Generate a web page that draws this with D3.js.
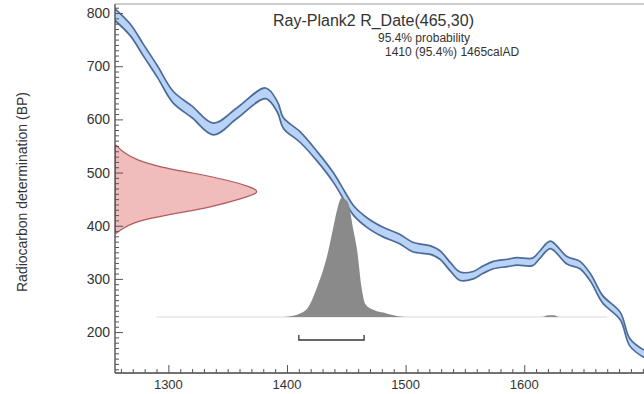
<!DOCTYPE html>
<html>
<head>
<meta charset="utf-8">
<script src="https://cdn.jsdelivr.net/npm/d3@7"></script>
<style>
  html, body { margin: 0; padding: 0; background: #ffffff; }
  svg { display: block; }
  text { font-family: "Liberation Sans", Arial, sans-serif; fill: #333; }
</style>
</head>
<body>
<svg id="chart" width="644" height="394"></svg>
<script>
// ---- Data ----
// Calibration curve: calendar year (AD), radiocarbon age (BP), 1-sigma (BP)
const curveYears = [1255, 1268, 1279, 1291, 1304, 1320, 1338, 1358, 1382, 1392, 1397, 1411, 1426, 1439, 1449, 1456, 1468, 1481, 1495, 1506, 1521, 1529, 1538, 1546, 1557, 1565, 1574, 1586, 1594, 1607, 1613, 1622, 1636, 1647, 1656, 1666, 1681, 1689, 1701];
const curveBP    = [797, 768, 730, 689, 642, 614, 582, 612, 649, 623, 593, 567, 529, 491, 454, 429, 405, 388, 375, 360, 354, 345, 322, 305, 307, 317, 326, 330, 333, 332, 345, 364, 335, 326, 302, 262, 230, 181, 159];
const curveSigma = [11, 11, 11, 11, 11, 11, 11, 10, 10, 10, 10, 10, 9, 9, 9, 9, 9, 9, 9, 9, 8, 8, 8, 8, 7, 7, 7, 7, 7, 7, 7, 7, 7, 7, 7, 7, 7, 7, 7];

// Radiocarbon measurement R_Date(465,30): BP value, relative density
const rdateBP      = [551, 538, 523, 510, 499, 486, 473, 463, 452, 435, 424, 414, 405, 395, 386];
const rdateDensity = [0.01, 0.055, 0.15, 0.31, 0.54, 0.77, 0.93, 1.0, 0.88, 0.66, 0.43, 0.24, 0.12, 0.055, 0.01];

// Calibrated distribution: calendar year, relative density
const calYears   = [1290, 1398, 1405, 1411, 1417, 1425, 1434, 1439, 1442, 1446, 1451, 1456, 1459, 1463, 1466, 1473, 1484, 1490, 1500, 1615, 1620, 1625, 1630, 1670];
const calDensity = [0, 0, 0.01, 0.03, 0.07, 0.24, 0.52, 0.75, 0.89, 1.0, 0.97, 0.73, 0.57, 0.24, 0.11, 0.06, 0.03, 0.015, 0, 0, 0.015, 0.015, 0, 0];

// 95.4% range
const range95 = [1410, 1465];

// Axis ticks
const xMajorTicks = [1300, 1400, 1500, 1600];
const yMajorTicks = [200, 300, 400, 500, 600, 700, 800];

const titleText = "Ray-Plank2 R_Date(465,30)";
const probText  = "95.4% probability";
const rangeText = "1410 (95.4%) 1465calAD";
const yLabel    = "Radiocarbon determination (BP)";

// ---- Layout ----
const L = 115, R = 644, T = 4, B = 373;
const svg = d3.select("#chart");

const x = d3.scaleLinear().domain([1255, 1701]).range([L, R]);
const y = d3.scaleLinear().domain([123, 817]).range([B, T]);

const defs = svg.append("defs");
defs.append("clipPath").attr("id", "plot").append("rect")
  .attr("x", L).attr("y", T).attr("width", R - L).attr("height", B - T);

const g = svg.append("g").attr("clip-path", "url(#plot)");

// Calibration curve band
const curve = curveYears.map((yr, i) => ({ yr, bp: curveBP[i], s: curveSigma[i] }));
const cf = d3.curveCatmullRom.alpha(0.5);
g.append("path").datum(curve)
  .attr("d", d3.area().curve(cf)
    .x(d => x(d.yr)).y0(d => y(d.bp - d.s)).y1(d => y(d.bp + d.s)))
  .attr("fill", "#b8d3f6");
[1, -1].forEach(sign => {
  g.append("path").datum(curve)
    .attr("d", d3.line().curve(cf)
      .x(d => x(d.yr)).y(d => y(d.bp + sign * d.s)))
    .attr("fill", "none").attr("stroke", "#4d6b98").attr("stroke-width", 1.7);
});

// R_Date distribution on the y axis
const rScale = d3.scaleLinear().domain([0, 1]).range([L, L + 146]);
const rdate = rdateBP.map((bp, i) => ({ bp, d: rdateDensity[i] }));
g.append("path").datum(rdate)
  .attr("d", d3.area().curve(d3.curveBasis)
    .y(d => y(d.bp)).x0(L).x1(d => rScale(d.d)))
  .attr("fill", "#f0bcbc").attr("stroke", "#b25a5a").attr("stroke-width", 1.2);

// Calibrated distribution
const base = 317;
const hScale = d3.scaleLinear().domain([0, 1]).range([base, base - 119]);
const cal = calYears.map((yr, i) => ({ yr, d: calDensity[i] }));
g.append("line")
  .attr("x1", x(calYears[0])).attr("x2", x(calYears[calYears.length - 1]))
  .attr("y1", base).attr("y2", base)
  .attr("stroke", "#cfcfcf").attr("stroke-width", 0.8);
g.append("path").datum(cal)
  .attr("d", d3.area().curve(d3.curveMonotoneX)
    .x(d => x(d.yr)).y0(base).y1(d => hScale(d.d)))
  .attr("fill", "#8a8a8a");

// 95.4% range bracket
const by = 340;
const br = svg.append("g").attr("stroke", "#333").attr("stroke-width", 1.3).attr("fill", "none");
br.append("path")
  .attr("d", `M${x(range95[0])},${by - 5}V${by}H${x(range95[1])}V${by - 5}`);

// ---- Axes ----
const axG = svg.append("g");
axG.append("line").attr("x1", L).attr("x2", L).attr("y1", T).attr("y2", B)
  .attr("stroke", "#444").attr("stroke-width", 1.3);
axG.append("line").attr("x1", L).attr("x2", R).attr("y1", B).attr("y2", B)
  .attr("stroke", "#444").attr("stroke-width", 1.3);
axG.append("line").attr("x1", L).attr("x2", R).attr("y1", T).attr("y2", T)
  .attr("stroke", "#999").attr("stroke-width", 1.2);

// x axis (ticks inward)
const xMinor = d3.range(1260, 1701, 10).filter(v => !xMajorTicks.includes(v));
const xAx = svg.append("g").attr("transform", `translate(0,${B})`)
  .call(d3.axisTop(x).tickValues(xMinor).tickSize(4).tickFormat(""));
const xAxM = svg.append("g").attr("transform", `translate(0,${B})`)
  .call(d3.axisTop(x).tickValues(xMajorTicks).tickSize(8).tickFormat(""));
[xAx, xAxM].forEach(a => { a.select(".domain").remove(); a.selectAll("line").attr("stroke", "#555"); });
svg.append("g").selectAll("text").data(xMajorTicks).join("text")
  .attr("x", d => x(d)).attr("y", 389).attr("text-anchor", "middle")
  .attr("font-size", 13).text(d => d);

// y axis (ticks inward)
const yMinor = d3.range(130, 811, 10).filter(v => !yMajorTicks.includes(v));
const yAx = svg.append("g").attr("transform", `translate(${L},0)`)
  .call(d3.axisRight(y).tickValues(yMinor).tickSize(4).tickFormat(""));
const yAxM = svg.append("g").attr("transform", `translate(${L},0)`)
  .call(d3.axisRight(y).tickValues(yMajorTicks).tickSize(8).tickFormat(""));
[yAx, yAxM].forEach(a => { a.select(".domain").remove(); a.selectAll("line").attr("stroke", "#555"); });
svg.append("g").selectAll("text").data(yMajorTicks).join("text")
  .attr("x", 110).attr("y", d => y(d) + 5).attr("text-anchor", "end")
  .attr("font-size", 14).text(d => d);

// y label
svg.append("text")
  .attr("transform", `translate(27,192) rotate(-90)`)
  .attr("text-anchor", "middle").attr("font-size", 14).text(yLabel);

// Titles
svg.append("text").attr("x", 273).attr("y", 26).attr("font-size", 16).text(titleText);
svg.append("text").attr("x", 378).attr("y", 42).attr("font-size", 12).text(probText);
svg.append("text").attr("x", 385).attr("y", 56).attr("font-size", 12).text(rangeText);
</script>
</body>
</html>
